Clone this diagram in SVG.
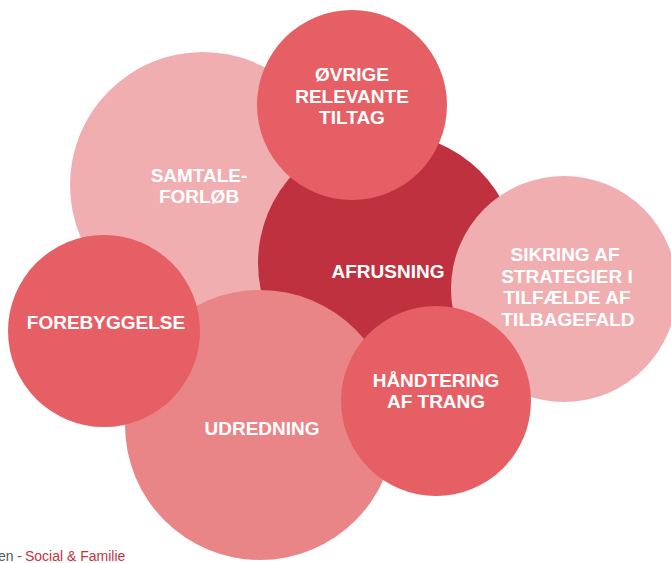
<svg xmlns="http://www.w3.org/2000/svg" width="671" height="563" viewBox="0 0 671 563">
<style>
.lbl{font-family:"Liberation Sans","Open Sans",sans-serif;font-weight:bold;font-size:19px;fill:#ffffff;text-anchor:middle}
.light{fill:#f0aeb1}
.dark{fill:#bf313e}
.coral{fill:#e65f65}
.mid{fill:#ea8587}
.foot{font-family:"Liberation Sans","Open Sans",sans-serif;font-size:14px}
</style>
<rect width="671" height="563" fill="#ffffff"/>
<g id="samtale">
<circle class="light" cx="203" cy="185" r="133"/>
<text class="lbl"><tspan x="199" y="182">SAMTALE-</tspan><tspan x="199" y="203">FORLØB</tspan></text>
</g>
<g id="afrusning">
<circle class="dark" cx="388" cy="263" r="130"/>
<text class="lbl" x="388" y="278">AFRUSNING</text>
</g>
<g id="ovrige">
<circle class="coral" cx="352" cy="105" r="95"/>
<text class="lbl"><tspan x="352" y="81">ØVRIGE</tspan><tspan x="352" y="103">RELEVANTE</tspan><tspan x="352" y="124">TILTAG</tspan></text>
</g>
<g id="sikring">
<circle class="light" cx="564" cy="289" r="113"/>
<text class="lbl"><tspan x="565" y="261">SIKRING AF</tspan><tspan x="567" y="283">STRATEGIER I</tspan><tspan x="567" y="304">TILFÆLDE AF</tspan><tspan x="568" y="326">TILBAGEFALD</tspan></text>
</g>
<g id="udredning">
<circle class="mid" cx="260" cy="425" r="135"/>
<text class="lbl" x="262" y="435">UDREDNING</text>
</g>
<g id="forebyggelse">
<circle class="coral" cx="104" cy="331" r="96"/>
<text class="lbl" x="106" y="329">FOREBYGGELSE</text>
</g>
<g id="handtering">
<circle class="coral" cx="436" cy="401" r="95"/>
<text class="lbl"><tspan x="436" y="387">HÅNDTERING</tspan><tspan x="436" y="408">AF TRANG</tspan></text>
</g>
<g id="connectors"></g>
<text class="foot" x="22" y="561" text-anchor="end" fill="#555555">en -</text>
<text class="foot" x="25" y="561" fill="#c8323e">Social &amp; Familie</text>
</svg>
